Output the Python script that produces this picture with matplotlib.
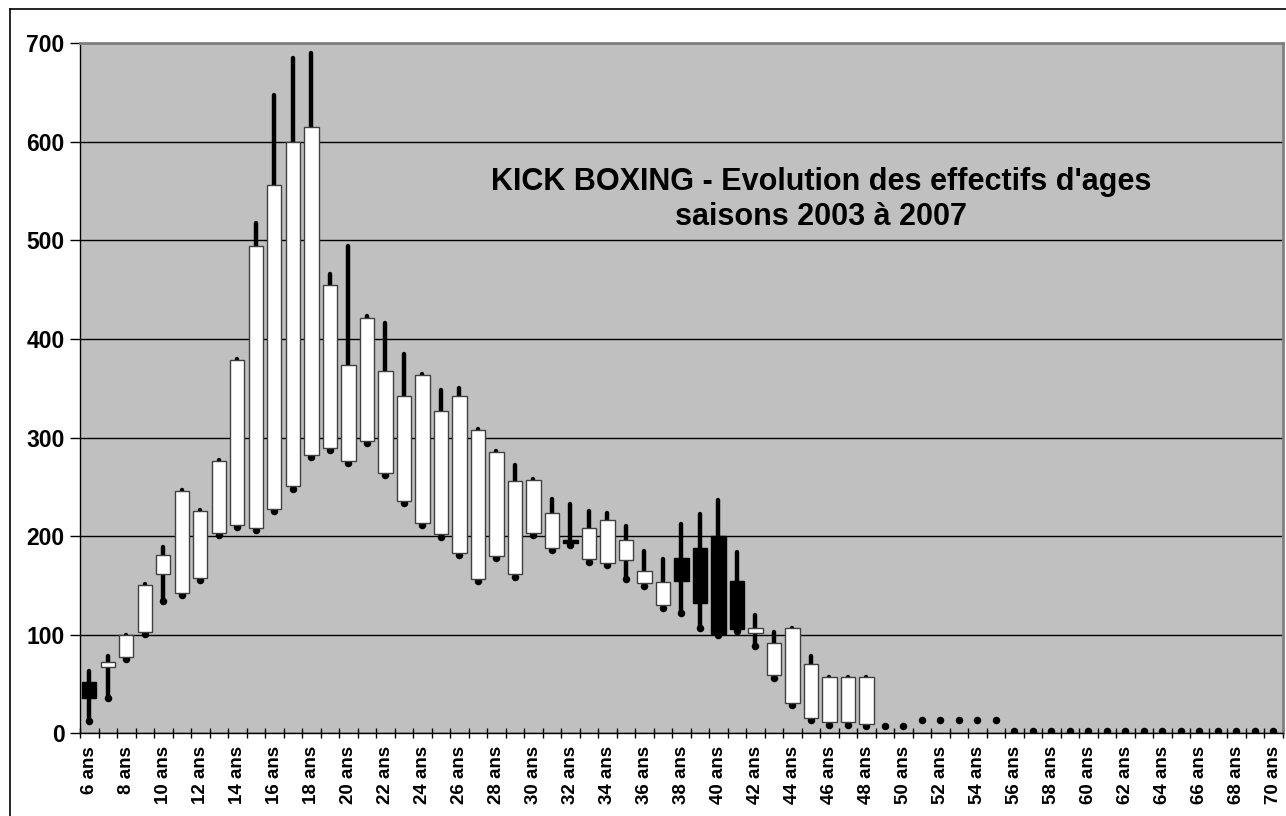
import matplotlib
matplotlib.use("Agg")
import matplotlib.pyplot as plt
from matplotlib.lines import Line2D
import numpy as np

plt.rcParams['font.family'] = ['Liberation Sans', 'DejaVu Sans']

# effectifs par age : ouverture / haut / bas / cloture (2003 -> 2007)
ages = list(range(6, 71))
open_vals = [52, 67, 77, 103, 162, 142, 158, 203, 211, 208, 228, 251, 282, 289, 276,
             297, 264, 236, 213, 202, 183, 157, 180, 162, 203, 188, 196, 177, 173, 176,
             152, 130, 178, 188, 200, 155, 102, 59, 31, 16, 11, 11, 9,
             7, 7, 14, 14, 14, 14, 14,
             2, 2, 2, 2, 2, 2, 2, 2, 2, 2, 2, 2, 2, 2, 2]
high_vals = [63, 78, 100, 151, 189, 247, 227, 277, 380, 518, 648, 685, 690, 466, 494,
             423, 416, 385, 364, 348, 350, 309, 286, 272, 258, 238, 233, 226, 224, 210,
             185, 177, 212, 222, 237, 184, 120, 103, 107, 78, 57, 57, 57,
             7, 7, 14, 14, 14, 14, 14,
             2, 2, 2, 2, 2, 2, 2, 2, 2, 2, 2, 2, 2, 2, 2]
low_vals = [12, 36, 75, 101, 134, 140, 156, 201, 209, 206, 226, 248, 280, 287, 274,
            295, 262, 234, 211, 199, 181, 155, 178, 159, 201, 186, 191, 174, 171, 157,
            149, 127, 122, 107, 100, 104, 89, 56, 29, 13, 8, 8, 7,
            7, 7, 14, 14, 14, 14, 14,
            2, 2, 2, 2, 2, 2, 2, 2, 2, 2, 2, 2, 2, 2, 2]
close_vals = [36, 72, 100, 150, 181, 246, 226, 276, 379, 494, 556, 600, 615, 455, 374,
              421, 368, 342, 363, 327, 342, 308, 285, 256, 257, 224, 193, 208, 216, 196,
              165, 153, 155, 132, 101, 106, 107, 92, 107, 70, 57, 57, 57,
              7, 7, 14, 14, 14, 14, 14,
              2, 2, 2, 2, 2, 2, 2, 2, 2, 2, 2, 2, 2, 2, 2]

labels = [str(a) + " ans" for a in ages]

fig = plt.figure(figsize=(12.86, 8.16), dpi=100)
ax = fig.add_axes([80/1286, 1-733.3/816, 1202.7/1286, 690/816])
ax.set_facecolor('#C0C0C0')

x = np.arange(len(ages))
o = np.array(open_vals)
c = np.array(close_vals)
h = np.array(high_vals)
l = np.array(low_vals)

# lignes haut-bas
ax.vlines(x, l, h, colors='black', linewidth=3.2, capstyle='round', zorder=3)
ax.plot(x, l, 'o', color='black', markersize=4.4, zorder=3)

# barres hausse / baisse (rien quand ouverture == cloture)
body = np.abs(c - o)
bottom = np.minimum(o, c)
up = (c > o)
down = (c < o)
ax.bar(x[up], body[up], bottom=bottom[up], width=0.78, color='white',
       edgecolor='#404040', linewidth=1.0, zorder=4)
ax.bar(x[down], body[down], bottom=bottom[down], width=0.78, color='black',
       edgecolor='black', linewidth=1.0, zorder=4)

ax.set_xlim(-0.5, len(ages) - 0.5)
ax.set_ylim(0, 700)
ax.set_yticks(range(0, 701, 100))
ax.yaxis.grid(True, color='black', linewidth=1.0)
ax.set_axisbelow(True)

ax.set_xticks(x[::2])
ax.set_xticklabels(labels[::2], rotation=90, fontsize=13.5, fontweight='bold')
ax.set_xticks(np.arange(-0.5, len(ages), 1), minor=True)
ax.tick_params(axis='x', which='major', length=0, pad=9)
ax.tick_params(axis='x', which='minor', length=7, direction='inout', width=1)
ax.tick_params(axis='y', length=7, width=1, pad=4)
for t in ax.get_yticklabels():
    t.set_fontsize(16.5)
    t.set_fontweight('bold')

for s in ['top', 'right']:
    ax.spines[s].set_color('#808080')
    ax.spines[s].set_linewidth(2)
ax.spines['left'].set_linewidth(1)
ax.spines['bottom'].set_linewidth(1)

ax.text(0.616, 0.799, "KICK BOXING - Evolution des effectifs d'ages", transform=ax.transAxes,
        ha='center', va='center', fontsize=22, fontweight='bold')
ax.text(0.616, 0.748, "saisons 2003 à 2007", transform=ax.transAxes,
        ha='center', va='center', fontsize=22, fontweight='bold')

# cadre du graphique
fig.add_artist(Line2D([10/1286, 10/1286], [0, 1-9/816], color='black', linewidth=1.2))
fig.add_artist(Line2D([10/1286, 1], [1-9/816, 1-9/816], color='black', linewidth=1.2))

plt.savefig("out.png", dpi=100)
